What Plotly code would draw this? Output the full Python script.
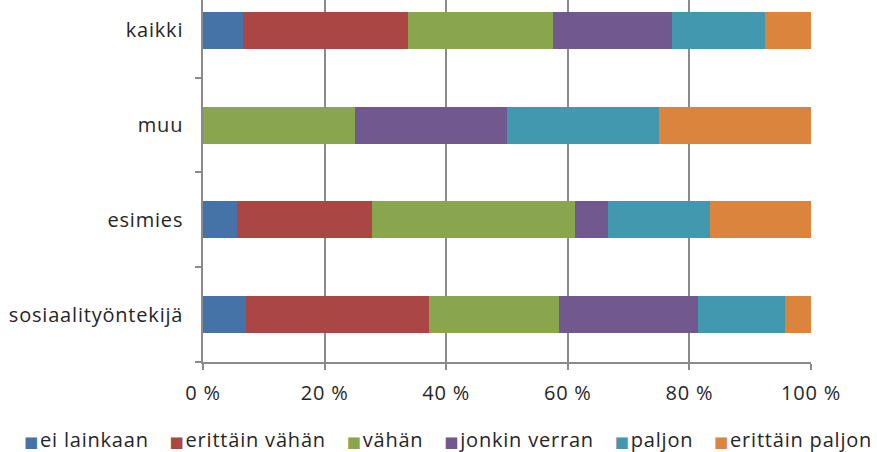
import plotly.graph_objects as go

categories = ["sosiaalityöntekijä", "esimies", "muu", "kaikki"]
series_names = ["ei lainkaan", "erittäin vähän", "vähän", "jonkin verran", "paljon", "erittäin paljon"]
# respondent counts per category (bars are normalised to percent)
ei_lainkaan = [5, 1, 0, 6]
erittain_vahan = [21, 4, 0, 25]
vahan = [15, 6, 1, 22]
jonkin_verran = [16, 1, 1, 18]
paljon = [10, 3, 1, 14]
erittain_paljon = [3, 3, 1, 7]
x_tick_vals = [0, 20, 40, 60, 80, 100]
x_tick_text = ["0 %", "20 %", "40 %", "60 %", "80 %", "100 %"]

colors = ["#4572A7", "#AA4643", "#89A54E", "#71588F", "#4198AF", "#DB843D"]
values = [ei_lainkaan, erittain_vahan, vahan, jonkin_verran, paljon, erittain_paljon]

fig = go.Figure()
for name, vals, col in zip(series_names, values, colors):
    fig.add_trace(go.Bar(
        y=categories, x=vals, name=name, orientation="h",
        marker=dict(color=col, line=dict(width=0)),
    ))

font_family = "Open Sans, Noto Sans, sans-serif"
grid_col = "#8a8a8a"


def spaced(t, ls="0.8px"):
    return f"<span style='letter-spacing:{ls}'>{t}</span>"


# legend drawn as a single centred text row: small square + name
legend_parts = [
    f"<span style='font-family:DejaVu Sans;font-size:15px;color:{c}'>■</span>"
    f"<span style='font-size:7px'>\u00a0</span>{spaced(n)}"
    for n, c in zip(series_names, colors)
]
legend_text = "\u00a0\u00a0\u00a0\u00a0".join(legend_parts)

fig.update_layout(
    barmode="stack", barnorm="percent", bargap=0.61,
    width=877, height=452,
    margin=dict(l=203, r=66, t=0, b=90),
    plot_bgcolor="white", paper_bgcolor="white",
    font=dict(family=font_family, size=20, color="#262626"),
    showlegend=False,
    xaxis=dict(range=[0, 100], tickvals=x_tick_vals,
               ticktext=[spaced(t) for t in x_tick_text],
               showgrid=True, gridcolor=grid_col, gridwidth=1.5,
               showline=True, linecolor=grid_col, linewidth=1.5,
               ticks="outside", ticklen=6, tickcolor=grid_col, tickwidth=1.5,
               ticklabelstandoff=6,
               zeroline=False, fixedrange=True),
    yaxis=dict(range=[-0.5, 3.32], showgrid=False, showline=True,
               tickvals=categories, ticktext=[spaced(c) for c in categories],
               linecolor=grid_col, linewidth=1.5, ticks="outside", tickson="boundaries",
               ticklen=6, tickcolor=grid_col, tickwidth=1.5, ticklabelstandoff=14),
    annotations=[dict(
        text=legend_text, xref="paper", yref="paper", x=0.403, y=-0.215,
        xanchor="center", yanchor="middle", showarrow=False,
        font=dict(family=font_family, size=20, color="#262626"),
    )],
)

fig.write_html("out.html", config={"displayModeBar": False},
               post_script="document.body.style.margin='0';")
